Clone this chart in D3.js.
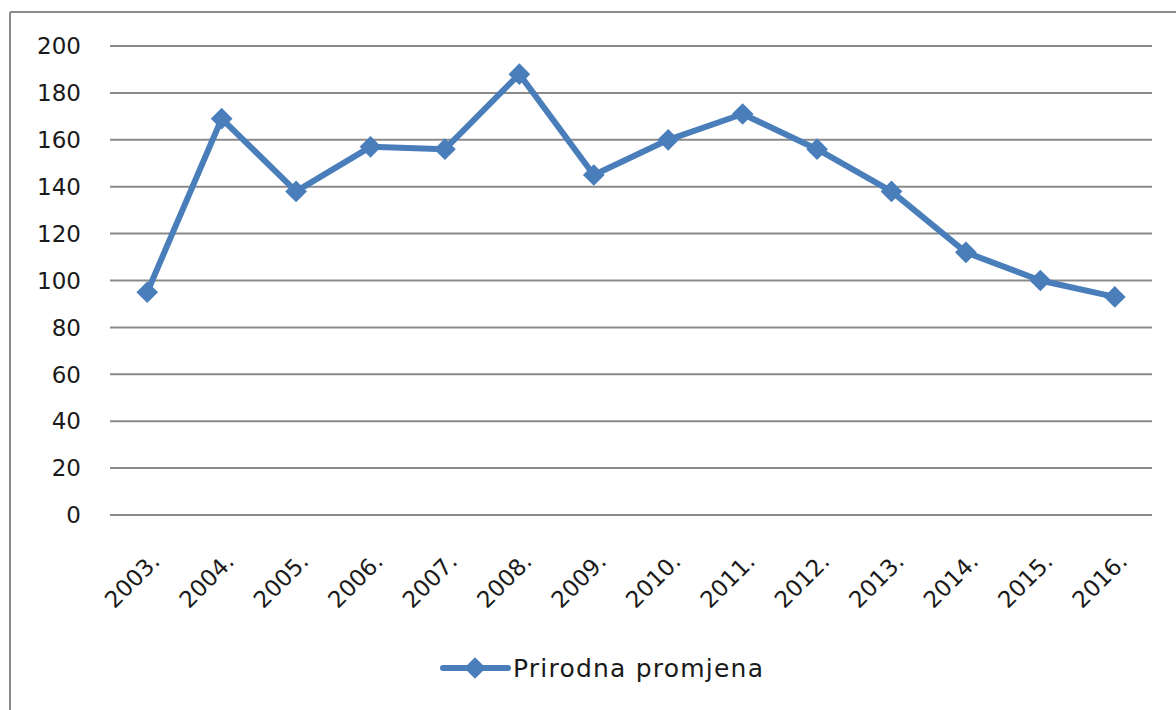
<!DOCTYPE html>
<html>
<head>
    <meta charset="utf-8">
    <title>Prirodna promjena</title>
    <script src="https://d3js.org/d3.v7.min.js"></script>
    <style>
        body { margin: 0; background: #fff; }
        text { font-family: "DejaVu Sans", Verdana, sans-serif; fill: #1a1a1a; }
    </style>
</head>
<body>
<script>
    // data
    var years = ["2003.", "2004.", "2005.", "2006.", "2007.", "2008.", "2009.",
                 "2010.", "2011.", "2012.", "2013.", "2014.", "2015.", "2016."];
    var values = [95, 169, 138, 157, 156, 188, 145, 160, 171, 156, 138, 112, 100, 93];
    var yTicks = [0, 20, 40, 60, 80, 100, 120, 140, 160, 180, 200];
    var seriesName = "Prirodna promjena";

    var w = 1176, h = 710;
    var blue = "#4a7ebb";

    var svg = d3.select("body").append("svg")
        .attr("width", w)
        .attr("height", h);

    // frame (only top and left edges show in the picture)
    svg.append("line").attr("x1", 10).attr("y1", 12).attr("x2", w).attr("y2", 12)
        .attr("stroke", "#8c8c8c").attr("stroke-width", 2);
    svg.append("line").attr("x1", 10).attr("y1", 12).attr("x2", 10).attr("y2", h)
        .attr("stroke", "#8c8c8c").attr("stroke-width", 2);

    var x = d3.scalePoint()
        .domain(years)
        .range([110, 1152])
        .padding(0.5);

    var y = d3.scaleLinear()
        .domain([0, 200])
        .range([515, 46]);

    // grid lines
    svg.append("g")
        .selectAll("line")
        .data(yTicks)
        .enter().append("line")
        .attr("x1", 110)
        .attr("x2", 1152)
        .attr("y1", function(d) { return y(d); })
        .attr("y2", function(d) { return y(d); })
        .attr("stroke", "#8a8a8a")
        .attr("stroke-width", 2);

    // y axis labels
    svg.append("g")
        .selectAll("text")
        .data(yTicks)
        .enter().append("text")
        .attr("x", 81)
        .attr("y", function(d) { return y(d); })
        .attr("dy", "0.36em")
        .attr("text-anchor", "end")
        .style("font-size", "23px")
        .text(function(d) { return d; });

    // x axis labels, rotated
    svg.append("g")
        .selectAll("text")
        .data(years)
        .enter().append("text")
        .attr("transform", function(d) {
            return "translate(" + (x(d) + 8) + ",557) rotate(-45)";
        })
        .attr("text-anchor", "end")
        .attr("dy", "0.36em")
        .style("font-size", "23px")
        .text(function(d) { return d; });

    // line
    var line = d3.line()
        .x(function(d, i) { return x(years[i]); })
        .y(function(d) { return y(d); });

    svg.append("path")
        .datum(values)
        .attr("d", line)
        .attr("fill", "none")
        .attr("stroke", blue)
        .attr("stroke-width", 6)
        .attr("stroke-linejoin", "round");

    var diamond = d3.symbol().type(d3.symbolDiamond2).size(300);

    svg.append("g")
        .selectAll("path")
        .data(values)
        .enter().append("path")
        .attr("d", diamond)
        .attr("transform", function(d, i) {
            return "translate(" + x(years[i]) + "," + y(d) + ")";
        })
        .attr("fill", blue);

    // legend
    var lg = svg.append("g");
    lg.append("line")
        .attr("x1", 443).attr("x2", 508)
        .attr("y1", 668).attr("y2", 668)
        .attr("stroke", blue)
        .attr("stroke-width", 6)
        .attr("stroke-linecap", "round");
    lg.append("path")
        .attr("d", diamond)
        .attr("transform", "translate(475,668)")
        .attr("fill", blue);
    lg.append("text")
        .attr("x", 513)
        .attr("y", 668)
        .attr("dy", "0.36em")
        .attr("textLength", 250)
        .attr("lengthAdjust", "spacing")
        .style("font-size", "25px")
        .text(seriesName);
</script>
</body>
</html>
